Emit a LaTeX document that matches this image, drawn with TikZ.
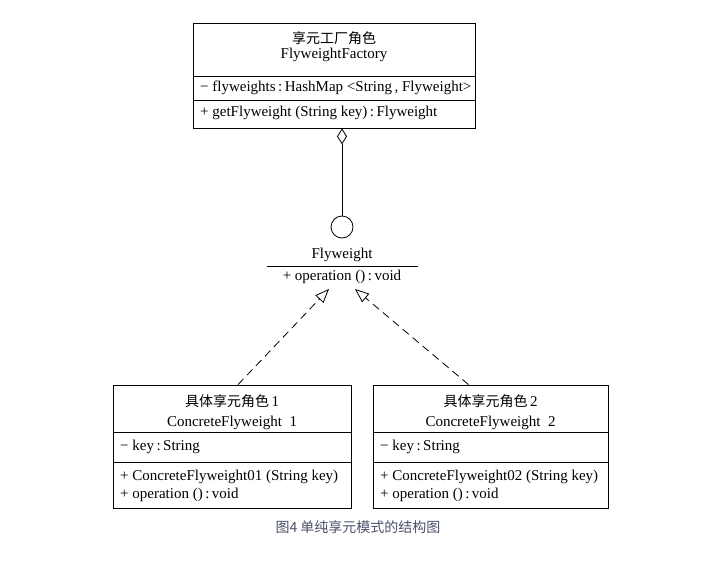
\documentclass[tikz,border=0pt]{standalone}
\usepackage{fontspec}
\setmainfont{Liberation Serif}
\newfontfamily\cjk{Noto Sans CJK SC}
\usetikzlibrary{arrows.meta,shapes.geometric}
\definecolor{captc}{RGB}{75,80,105}
\begin{document}
\begin{tikzpicture}[x=1pt,y=-1pt,
  classbox/.style={draw,line width=0.8pt,inner sep=0pt},
  divider/.style={line width=0.8pt},
  txt/.style={inner sep=0pt,font=\fontsize{15}{16}\selectfont},
  ltxt/.style={txt,anchor=west},
  realize/.style={line width=0.8pt,dash pattern=on 8pt off 5pt,-{Triangle[open,length=14pt,width=11pt]}}]
\useasboundingbox (0,0) rectangle (717,560);
% factory
\node[classbox,minimum width=282pt,minimum height=105pt] (fac) at (334,75.5) {};
\draw[divider] (193,76) -- (475,76);
\draw[divider] (193,100) -- (475,100);
\node[txt] (facT1) at (334,38) {{\cjk\fontsize{14}{15}\selectfont 享元工厂角色}};
\node[txt] (facT2) at (334,55) {FlyweightFactory};
\node[ltxt] (facA) at (200,88) {− flyweights\,:\,HashMap <String\,, Flyweight>};
\node[ltxt] (facM) at (200,113) {+ getFlyweight (String key)\,:\,Flyweight};
% interface
\node[draw,circle,line width=0.8pt,minimum size=22pt,inner sep=0pt] (circ) at (342,227) {};
\draw[line width=0.8pt,{Diamond[open,length=16pt,width=10pt]}-] (fac.south -| circ) -- (circ.north);
\node[minimum width=151pt,minimum height=36pt,inner sep=0pt] (fw) at (342.5,266) {};
\node[txt] (fwT) at (342,255) {Flyweight};
\draw[divider] (fw.west) -- (fw.east);
\node[txt] (fwO) at (342,277) {+ operation ()\,:\,void};
\coordinate (tipL) at (329,289);
\coordinate (tipR) at (355,289);
% concrete 1
\node[classbox,minimum width=238pt,minimum height=123pt] (c1) at (232,446.5) {};
\draw[divider] (113,432) -- (351,432);
\draw[divider] (113,462) -- (351,462);
\node[txt] (c1T1) at (232,401) {{\cjk\fontsize{14}{15}\selectfont 具体享元角色}\,1};
\node[txt] (c1T2) at (232,423) {ConcreteFlyweight\ \ 1};
\node[ltxt] (c1A) at (120,447) {− key\,:\,String};
\node[ltxt] (c1M1) at (120,477) {+ ConcreteFlyweight01 (String key)};
\node[ltxt] (c1M2) at (120,495) {+ operation ()\,:\,void};
% concrete 2
\node[classbox,minimum width=235pt,minimum height=123pt] (c2) at (490.5,446.5) {};
\draw[divider] (373,432) -- (608,432);
\draw[divider] (373,462) -- (608,462);
\node[txt] (c2T1) at (490.5,401) {{\cjk\fontsize{14}{15}\selectfont 具体享元角色}\,2};
\node[txt] (c2T2) at (490.5,423) {ConcreteFlyweight\ \ 2};
\node[ltxt] (c2A) at (380,447) {− key\,:\,String};
\node[ltxt] (c2M1) at (380,477) {+ ConcreteFlyweight02 (String key)};
\node[ltxt] (c2M2) at (380,495) {+ operation ()\,:\,void};
% realizations
\draw[realize] ([xshift=6pt]c1.north) -- (tipL);
\draw[realize] ([xshift=-22pt]c2.north) -- (tipR);
% caption
\node[inner sep=0pt,text=captc,font=\cjk\fontsize{14}{16}\selectfont] (cap) at (358,527) {图4 单纯享元模式的结构图};
\end{tikzpicture}
\end{document}
